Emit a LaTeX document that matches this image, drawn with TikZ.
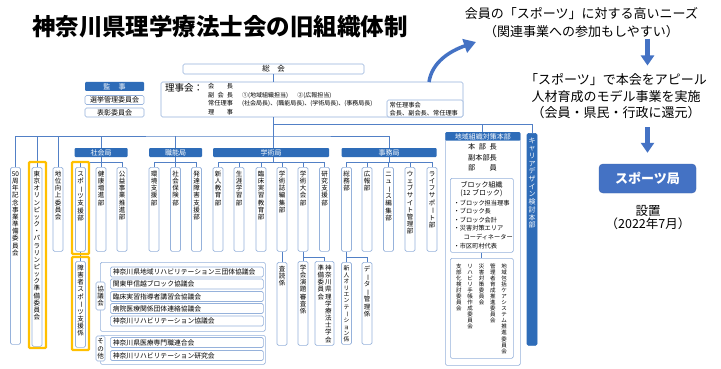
\documentclass[tikz,border=0pt]{standalone}
\usepackage{fontspec}
\setmainfont{Noto Sans CJK JP}
\usepackage{graphicx}
\usetikzlibrary{arrows.meta}

\makeatletter
\def\tate@end{\tate@stop}
\def\tate@dash{ー}
\newcommand\tatebox[1]{\vtop{\offinterlineskip\tate@loop#1\tate@stop}}
\def\tate@loop#1{\def\tate@cur{#1}\ifx\tate@cur\tate@end\else\tate@char{#1}\expandafter\tate@loop\fi}
\def\tate@char#1{\def\tate@cur{#1}\hbox to 1em{\hss\ifx\tate@cur\tate@dash\rotatebox[origin=c]{-90}{#1}\else#1\fi\hss\vrule height .95em depth .15em width 0pt}}
\newcommand\tatecell[2]{\vbox to #1pt{\vskip3pt\hbox{#2}\vss}}
\newcommand\tatecol[2]{\tatecell{#1}{\tatebox{#2}}}
\makeatother

\begin{document}
\begin{tikzpicture}[x=1pt,y=-1pt,
  waku/.style={draw=boxline,line width=0.7pt,rounded corners=1.5pt,fill=white,inner sep=0pt},
  kyokulabel/.style={fill=kyokuBlue,text=white,rounded corners=1pt,inner sep=0pt,minimum height=9pt,font=\fontsize{7}{8}\selectfont},
  tate/.style={waku,anchor=north,minimum width=10pt,font=\fontsize{6.5}{7}\selectfont},
  kyogiitem/.style={waku,anchor=west,minimum height=10pt,text width=148pt,inner xsep=2.5pt,align=left,font=\fontsize{6.8}{7}\selectfont},
  txt/.style={inner sep=0pt},
  conn/.style={draw=lineBlue,line width=0.9pt},
  hilite/.style={draw=hiliteYellow,line width=2.2pt,rounded corners=1pt},
  bigarrow/.style={draw=arrowBlue,line width=3.5pt,-{Triangle[length=12pt,width=14pt]}},
  downarrow/.style={draw=arrowBlue,line width=4.5pt,-{Triangle[length=10pt,width=13pt]}}]
\definecolor{kyokuBlue}{RGB}{46,108,184}
\definecolor{boxline}{RGB}{150,178,219}
\definecolor{lineBlue}{RGB}{82,128,198}
\definecolor{hiliteYellow}{RGB}{255,192,0}
\definecolor{sportsBlue}{RGB}{68,114,196}
\definecolor{sportsEdge}{RGB}{60,100,175}
\definecolor{arrowBlue}{RGB}{68,114,196}
\path[use as bounding box,fill=white] (0,0) rectangle (721,369);

\node[txt,anchor=base,font=\fontsize{23.5}{24}\selectfont\bfseries] (title) at (220,36) {神奈川県理学療法士会の旧組織体制};

\node[waku,minimum width=181pt,minimum height=10pt,font=\fontsize{7.5}{8}\selectfont] (sokai) at (273.5,69) {総\hspace{1em}会};
\node[waku,minimum width=302pt,minimum height=35pt] (rijikai) at (312,99.5) {};
\node[waku,minimum width=76pt,minimum height=17pt] (jonin) at (425,108.5) {};
\node[txt,anchor=base west,font=\fontsize{9.5}{10}\selectfont] (rijikaitext) at (165,92) {理事会：};
\node[txt,anchor=north west,align=left,font=\fontsize{6.2}{8.4}\selectfont] (yakuin) at (208,83.5) {\makebox[4em][s]{会\hfill 長}\\\makebox[4em][s]{副\hfill 会\hfill 長}\\常任理事\\\makebox[4em][s]{理\hfill 事}};
\node[txt,anchor=north west,align=left,font=\fontsize{6}{8.3}\selectfont] (tanto) at (242,92) {①(地域組織担当)\hspace{1.5em}②(広報担当)\\(社会局長)、(職能局長)、(学術局長)、(事務局長)};
\node[txt,anchor=north west,align=left,font=\fontsize{6.2}{8}\selectfont] (joninkai) at (389.5,101.8) {常任理事会\\会長、副会長、常任理事};

\node[kyokulabel,minimum width=59pt] (kanji) at (114.5,86.5) {監\hspace{1.2em}事};
\node[waku,minimum width=59pt,minimum height=9pt,font=\fontsize{7}{8}\selectfont] (senkyo) at (114.5,100) {選挙管理委員会};
\node[waku,minimum width=59pt,minimum height=9pt,font=\fontsize{7}{8}\selectfont] (hyosho) at (114.5,112.5) {表彰委員会};

\coordinate (hub) at (273.5,136);
\coordinate (hub2) at (273.5,124);
\coordinate (subbus) at (0,162);
\coordinate (lowbus) at (0,257);

\node[kyokulabel,minimum width=53pt] (shakai) at (101,152.5) {社会局};
\node[kyokulabel,minimum width=53pt] (shokuno) at (175.5,152.5) {職能局};
\node[kyokulabel,minimum width=116pt] (gakujutsu) at (271,152.5) {学術局};
\node[kyokulabel,minimum width=95pt] (jimu) at (389,152.5) {事務局};

\node[tate] (kinen) at (15.5,167) {\tatecol{177}{{50}周年記念事業準備委員会}};
\node[tate] (tokyo) at (37,167) {\tatecol{179}{東京オリンピック・パラリンピック準備委員会}};
\node[tate] (chii) at (58,167) {\tatecol{84}{地位向上委員会}};
\node[tate] (sports) at (80.5,167) {\tatecol{84}{スポーツ支援部}};
\node[tate] (kenko) at (101,167) {\tatecol{84}{健康増進部}};
\node[tate] (koeki) at (122,167) {\tatecol{84}{公益事業推進部}};
\node[tate] (shogaisha) at (80.5,261) {\tatecol{86}{障害者スポーツ支援係}};
\node[tate] (kankyo) at (154,167) {\tatecol{84}{環境支援部}};
\node[tate] (hoken) at (175.5,167) {\tatecol{84}{社会保険部}};
\node[tate] (hattatsu) at (196.5,167) {\tatecol{84}{発達障害支援部}};
\node[tate] (shinjin) at (218,167) {\tatecol{84}{新人教育部}};
\node[tate] (shogai) at (239,167) {\tatecol{84}{生涯学習部}};
\node[tate] (rinsho) at (261,167) {\tatecol{84}{臨床実習教育部}};
\node[tate] (henshu) at (282,167) {\tatecol{84}{学術誌編集部}};
\node[tate] (taikai) at (303,167) {\tatecol{84}{学術大会部}};
\node[tate] (kenkyu) at (324.5,167) {\tatecol{84}{研究支援部}};
\node[tate] (sadoku) at (282,262) {\tatecol{83}{査読係}};
\node[tate] (endai) at (303,261) {\tatecol{84}{学会演題審査係}};
\node[tate,minimum width=19pt] (gakkai) at (324.5,261) {\tatecell{84}{\tatebox{準備委員会}\kern1pt\tatebox{神奈川県理学療法士学会}}};
\node[tate] (somu) at (346.5,167) {\tatecol{84}{総務部}};
\node[tate] (koho) at (367,167) {\tatecol{84}{広報部}};
\node[tate] (news) at (388.5,167) {\tatecol{84}{ニュース編集部}};
\node[tate] (web) at (410,167) {\tatecol{84}{ウェブサイト管理部}};
\node[tate] (life) at (432,167) {\tatecol{84}{ライフサポート部}};
\node[tate,font=\fontsize{5.8}{6}\selectfont] (orient) at (346.5,262) {\tatecol{82}{新人オリエンテーション係}};
\node[tate] (data) at (367,262) {\tatecol{82}{データー管理係}};
\node[tate,fill=kyokuBlue,draw=kyokuBlue,text=white,font=\fontsize{7}{8}\selectfont] (career) at (532,133) {\tatecol{212}{キャリアデザイン検討本部}};

\node[waku,anchor=north west,minimum width=165pt,minimum height=69pt] (kyogikai) at (100,262) {};
\node[waku,anchor=north west,minimum width=165pt,minimum height=29pt] (sonota) at (100,335) {};
\node[waku,minimum width=9pt,minimum height=28pt,font=\fontsize{6.5}{7}\selectfont] (kyogilabel) at (100.5,296) {\tatebox{協議会}};
\node[waku,minimum width=9pt,minimum height=25pt,font=\fontsize{6.5}{7}\selectfont] (sonotalabel) at (100.5,348.5) {\tatebox{その他}};
\node[kyogiitem] (sandantai) at (110,272) {神奈川県地域リハビリテーション三団体協議会};
\node[kyogiitem] (kanto) at (110,284) {関東甲信越ブロック協議会};
\node[kyogiitem] (shidosha) at (110,296.5) {臨床実習指導者講習会協議会};
\node[kyogiitem] (byoin) at (110,308.5) {病院医療関係団体連絡協議会};
\node[kyogiitem] (kanareha) at (110,321) {神奈川リハビリテーション協議会};
\node[kyogiitem] (rengo) at (110,342.5) {神奈川県医療専門職連合会};
\node[kyogiitem] (kenkyukai) at (110,355.5) {神奈川リハビリテーション研究会};

\node[waku,anchor=north west,minimum width=75pt,minimum height=233pt] (chiiki) at (445,132) {};
\node[kyokulabel,anchor=north,minimum width=75pt,minimum height=8.5pt] (chiikilabel) at (chiiki.north) {地域組織対策本部};
\node[txt,anchor=north,align=center,font=\fontsize{7.2}{10.5}\selectfont] (honbu) at (482.5,143.5) {\makebox[4em][s]{本\hfill 部\hfill 長}\\副本部長\\\makebox[4em][s]{部\hfill 員}};
\node[waku,anchor=north west,minimum width=63pt,minimum height=74pt] (block) at (450,178) {};
\node[txt,anchor=north,align=center,font=\fontsize{7}{8}\selectfont] (blockhead) at (481.5,181) {ブロック組織\\(12 ブロック)};
\node[txt,anchor=north west,align=left,font=\fontsize{6.2}{8.6}\selectfont] (blockitems) at (453.5,199.5) {・ブロック担当理事\\・ブロック長\\・ブロック会計\\・災害対策エリア\\\hspace*{1.6em}コーディネーター\\・市区町村代表};
\node[waku,anchor=north west,minimum width=63pt,minimum height=100pt] (iinkai) at (450,258) {};
\node[txt,anchor=north,font=\fontsize{5.5}{6}\selectfont] (iinkaitext) at (481.5,263) {\tatebox{支部化検討委員会}\kern5.8pt\tatebox{リハビリ手帳作成委員会}\kern5.8pt\tatebox{災害対策委員会}\kern5.8pt\tatebox{管理者育成推進委員会}\kern5.8pt\tatebox{地域包括ケアシステム推進委員会}};

\draw[conn] (sokai.south) -- (sokai.south |- rijikai.north);
\draw[conn] (sokai.south |- rijikai.south) -- (gakujutsu.north -| hub);
\draw[conn] (kinen.north) |- (hub) -| (jimu.north);
\draw[conn] (tokyo.north) -- (tokyo.north |- hub);
\draw[conn] (chii.north) -- (chii.north |- hub);
\draw[conn] (shakai.north) -- (shakai.north |- hub);
\draw[conn] (shokuno.north) -- (shokuno.north |- hub);
\draw[conn] (hub2) -| (chiikilabel.north);
\draw[conn] (hub2) -| (career.north);

\draw[conn] (sports.north) |- (koeki.north |- subbus) -- (koeki.north);
\draw[conn] (shakai.south) -- (kenko.north);
\draw[conn] (kankyo.north) |- (hattatsu.north |- subbus) -- (hattatsu.north);
\draw[conn] (shokuno.south) -- (hoken.north);
\draw[conn] (shinjin.north) |- (kenkyu.north |- subbus) -- (kenkyu.north);
\draw[conn] (gakujutsu.south -| hub) -- (hub |- subbus);
\draw[conn] (shogai.north) -- (shogai.north |- subbus);
\draw[conn] (rinsho.north) -- (rinsho.north |- subbus);
\draw[conn] (henshu.north) -- (henshu.north |- subbus);
\draw[conn] (taikai.north) -- (taikai.north |- subbus);
\draw[conn] (somu.north) |- (life.north |- subbus) -- (life.north);
\draw[conn] (jimu.south) -- (jimu.south |- subbus);
\draw[conn] (koho.north) -- (koho.north |- subbus);
\draw[conn] (news.north) -- (news.north |- subbus);
\draw[conn] (web.north) -- (web.north |- subbus);

\draw[conn] (sports.south) -- (shogaisha.north);
\draw[conn] (henshu.south) -- (sadoku.north);
\draw[conn] (taikai.south) -- (endai.north);
\draw[conn] (taikai.south |- lowbus) -| (gakkai.north);
\draw[conn] (somu.south) -- (orient.north);
\draw[conn] (somu.south |- lowbus) -| (data.north);
\draw[conn] (block.south) -- (iinkai.north);

\draw[hilite] (29,162) rectangle (46,348);
\draw[hilite] (72,162) rectangle (89,254);
\draw[hilite] (72,257) rectangle (89,350);

\node[txt,anchor=north,align=center,font=\fontsize{13}{18}\selectfont] (needs) at (581.5,7.5) {会員の「スポーツ」に対する高いニーズ\\（関連事業への参加もしやすい）};
\node[txt,anchor=north,align=center,font=\fontsize{13}{16.6}\selectfont] (appeal) at (616,73.5) {「スポーツ」で本会をアピール\\人材育成のモデル事業を実施\\（会員・県民・行政に還元）};
\node[fill=sportsBlue,draw=sportsEdge,rounded corners=4pt,minimum width=97pt,minimum height=29pt,text=white,font=\fontsize{13}{14}\selectfont\bfseries,inner sep=0pt] (kyoku) at (647.5,178.5) {スポーツ局};
\node[txt,anchor=north,align=center,font=\fontsize{12.5}{13.5}\selectfont] (setchi) at (648,205) {設置\\（2022年7月）};

\draw[downarrow,shorten <=0.5pt,shorten >=8pt] (needs.south -| kyoku.north) -- (appeal.north -| kyoku.north);
\draw[downarrow,shorten <=8pt,shorten >=11pt] (appeal.south -| kyoku.north) -- (kyoku.north);
\coordinate (curvefoot) at (429,82);
\coordinate (curvetip) at (476,42);
\draw[bigarrow] (curvefoot) .. controls (432,62) and (450,51) .. (curvetip);
\end{tikzpicture}
\end{document}
